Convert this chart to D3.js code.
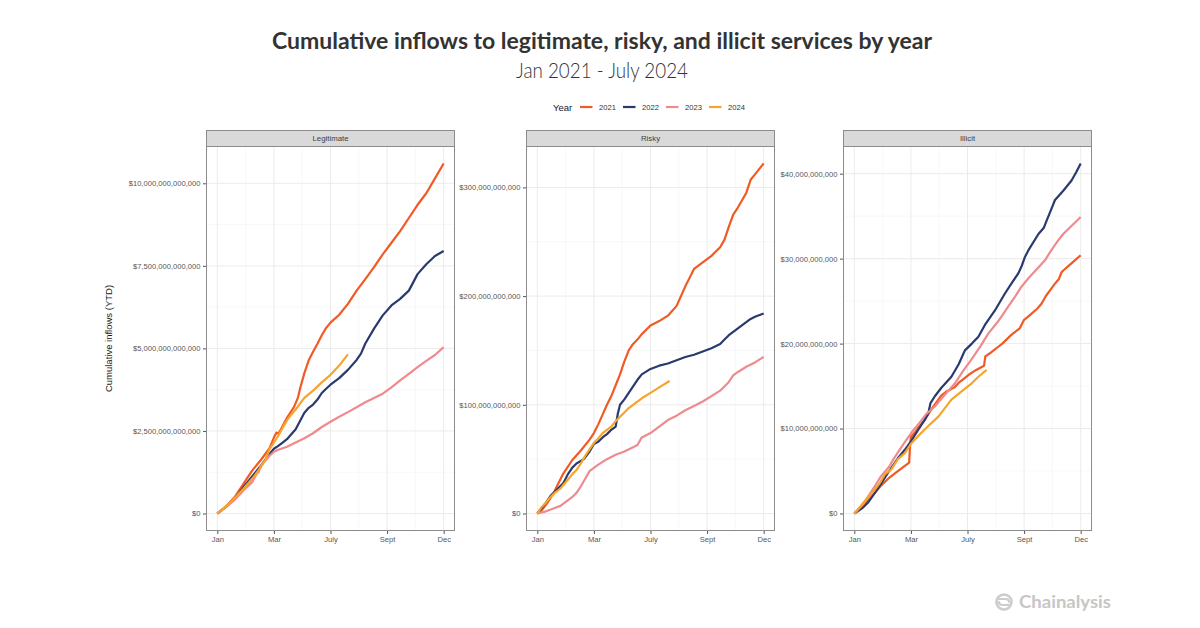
<!DOCTYPE html>
<html>
<head>
<meta charset="utf-8">
<script src="https://cdn.jsdelivr.net/npm/d3@7"></script>
<style>
  html, body { margin: 0; padding: 0; background: #ffffff; }
  svg { display: block; }
</style>
</head>
<body>
<svg id="chart" width="1200" height="628"></svg>
<script>
// ---------------- DATA (x = week of year, y = cumulative inflow) ----------------
const years = ["2021", "2022", "2023", "2024"];
const yearColors = ["#F15A24", "#2B3A6E", "#EF8A8E", "#F7A52A"];
const panelNames = ["Legitimate", "Risky", "Illicit"];
const xTickWeeks = [0, 13, 26, 39, 52];
const xTickLabels = ["Jan", "Mar", "July", "Sept", "Dec"];

// Legitimate (trillions USD)
const legit2021 = [[0,0],[2,0.22],[4,0.5],[6,0.9],[8,1.3],[10,1.62],[12,1.98],[13,2.3],[13.6,2.45],[14,2.42],[14.4,2.5],[15,2.65],[16,2.9],[17,3.1],[17.6,3.22],[18.5,3.5],[19.1,3.83],[20,4.25],[21,4.64],[22,4.9],[23,5.14],[24,5.4],[25,5.62],[26,5.78],[28,6.02],[30,6.35],[32,6.75],[34,7.1],[36,7.46],[38,7.85],[40,8.2],[42,8.55],[44,8.95],[46,9.35],[48,9.7],[50,10.15],[52,10.6]];
const legit2022 = [[0,0],[2,0.2],[4,0.45],[6,0.8],[8,1.12],[10,1.45],[12,1.8],[13,1.96],[14,2.05],[15,2.15],[16,2.25],[17,2.4],[18,2.55],[19,2.8],[20,3.05],[21,3.2],[22,3.3],[23,3.45],[24,3.65],[25,3.78],[26,3.9],[28,4.1],[30,4.35],[32,4.65],[33,4.84],[34,5.15],[36,5.6],[38,6.0],[40,6.3],[42,6.5],[44,6.75],[45,7.0],[46,7.25],[48,7.55],[50,7.8],[52,7.95]];
const legit2023 = [[0,0],[2,0.2],[4,0.42],[6,0.7],[8,0.95],[9,1.2],[9.5,1.25],[10,1.45],[11,1.6],[12,1.75],[13,1.87],[14,1.93],[16,2.02],[18,2.15],[20,2.28],[22,2.43],[24,2.62],[26,2.78],[28,2.93],[30,3.07],[32,3.22],[34,3.37],[36,3.5],[38,3.63],[40,3.82],[42,4.03],[44,4.23],[46,4.43],[48,4.62],[50,4.8],[52,5.04]];
const legit2024 = [[0,0],[2,0.22],[4,0.47],[6,0.75],[8,1.05],[10,1.4],[11,1.62],[12,1.95],[13,2.15],[14,2.35],[15,2.6],[16,2.82],[17,3.0],[18,3.15],[19,3.33],[20,3.5],[22,3.72],[24,3.97],[26,4.2],[28,4.48],[30,4.82]];

// Risky (billions USD)
const risky2021 = [[0,0],[1,3],[2,8],[3,14],[4,21],[4.5,25],[6,37],[8,49],[10,58],[12,68],[13,74],[14,82],[15,91],[16,100],[17,108],[18,118],[19,128],[20,140],[21,150],[22,156],[23,160],[24,165],[26,173],[28,177],[30,182],[32,191],[33,200],[34,209],[35,217],[36,225],[38,231],[40,237],[42,245],[43,252],[44,264],[45,275],[46,281],[47,288],[48,295],[49,307],[50,312],[51,317],[52,322]];
const risky2022 = [[0,0],[1,5],[2,10],[3,16],[4,20],[6,28],[7,36],[8,42],[9,46],[10.7,50],[12,57],[13,64],[14,66],[15,70],[16,73],[17,77],[18,80],[18.5,92],[19,100],[20,105],[21,111],[22,117],[23,123],[24,128],[26,133],[28,136],[30,138],[32,141],[34,144],[36,146],[38,149],[40,152],[42,156],[43,160],[44,164],[45,167],[46,170],[48,176],[49,179],[50,181],[52,184]];
const risky2023 = [[0,0],[2,2],[4,5],[5.3,7],[7,12],[8,15],[9,19],[10,25],[11,32],[12,39],[13,42],[14,45],[16,50],[18,54],[20,57],[22,61],[23,63],[24,70],[26,74],[28,80],[30,86],[32,90],[34,95],[36,99],[38,103],[40,108],[42,113],[44,121],[45,127],[46,130],[48,135],[50,139],[52,144]];
const risky2024 = [[0,0],[1,6],[2,10],[3,15],[4,19],[5.3,23],[7,31],[8,36],[9,40],[10,46],[11,53],[12,59],[13,65],[14,69],[15,74],[16,77],[17,80],[18,85],[19,89],[20,93],[21,97],[22,100],[23,103],[24,106],[26,111],[28,116],[30,121],[30.4,122]];

// Illicit (billions USD)
const illicit2021 = [[0,0],[2,0.9],[4,2.0],[4.7,2.4],[6,3.2],[8,4.2],[10,5.0],[12.6,6.0],[12.8,8.0],[13,9.0],[14,9.6],[15,10.3],[16.2,11.0],[17,11.7],[18,12.5],[19.3,13.4],[20,13.9],[21,14.3],[23.1,14.9],[24,15.4],[25,15.8],[26.2,16.3],[28,16.9],[29.8,17.4],[30.1,18.5],[31,18.8],[32,19.2],[33,19.6],[34,20.0],[36,21.0],[38,21.8],[39,22.8],[40,23.2],[42,24.1],[43,24.7],[44,25.6],[45,26.3],[46,27.0],[47,27.6],[47.6,28.4],[48,28.6],[50,29.5],[52,30.4]];
const illicit2022 = [[0,0],[2,0.7],[3.1,1.26],[4,1.9],[6,3.4],[8,5.0],[10,6.5],[11.6,7.5],[13,8.5],[14.7,9.86],[16,10.9],[17,11.8],[17.5,13.0],[18.5,13.8],[20,14.8],[22.3,16.1],[24,17.6],[25.4,19.2],[27,20.0],[28.5,20.8],[30,22.2],[32.3,23.9],[34.6,25.9],[36,27.0],[37.7,28.3],[38.5,29.2],[39.2,30.2],[40,31.0],[42.3,32.9],[43.5,33.6],[44.2,34.5],[45,35.5],[46.1,36.9],[48,38.0],[49.9,39.2],[51,40.2],[52,41.2]];
const illicit2023 = [[0,0],[2,1.1],[4.7,3.2],[6,4.3],[8,5.5],[9,6.4],[10.4,7.5],[12,8.7],[13.1,9.5],[15,10.7],[16.5,11.7],[18.5,12.6],[20,13.5],[21.5,14.4],[23.1,15.3],[25,16.8],[27,18.2],[29,19.7],[30.8,21.2],[33,22.6],[35,24.1],[37,25.6],[38.4,26.7],[40,27.7],[42,28.8],[43.8,29.8],[45,30.8],[46.9,32.2],[48,32.9],[50,33.9],[52,34.9]];
const illicit2024 = [[0,0],[2,1.2],[4.7,2.8],[6,3.7],[7,4.6],[8.5,5.2],[10,6.4],[11.6,7.1],[13,8.2],[15.4,9.5],[17,10.3],[19.3,11.4],[20.5,12.2],[22.3,13.4],[24,14.1],[26.9,15.3],[28.5,16.1],[30.4,16.9]];

const legitTicks = [0, 2.5, 5, 7.5, 10];     // trillions
const riskyTicks = [0, 100, 200, 300];        // billions
const illicitTicks = [0, 10, 20, 30, 40];     // billions
const legitUnit = 1e12, riskyUnit = 1e9, illicitUnit = 1e9;

// ---------------- LAYOUT ----------------
const svg = d3.select("#chart");
const W = 1200, H = 628;
svg.append("rect").attr("width", W).attr("height", H).attr("fill", "#ffffff");

const panels = [
  { name: panelNames[0], left: 206, series: [legit2021, legit2022, legit2023, legit2024], ticks: legitTicks, unit: legitUnit },
  { name: panelNames[1], left: 526, series: [risky2021, risky2022, risky2023, risky2024], ticks: riskyTicks, unit: riskyUnit },
  { name: panelNames[2], left: 843, series: [illicit2021, illicit2022, illicit2023, illicit2024], ticks: illicitTicks, unit: illicitUnit }
];
const panelW = 249, stripTop = 130, stripH = 16, plotTop = 146, plotBottom = 531;
const axisFont = "'Liberation Sans', Arial, sans-serif";
const fmt = d3.format("$,.0f");

panels.forEach(p => {
  const g = svg.append("g");
  const xMin = 0, xMax = 52, xPad = (xMax - xMin) * 0.05;
  const x = d3.scaleLinear().domain([xMin - xPad, xMax + xPad]).range([p.left, p.left + panelW]);
  const allY = p.series.flat().map(d => d[1]);
  const yLo = d3.min(allY), yHi = d3.max(allY), yPad = (yHi - yLo) * 0.05;
  const y = d3.scaleLinear().domain([yLo - yPad, yHi + yPad]).range([plotBottom, plotTop]);

  g.append("rect").attr("x", p.left).attr("y", plotTop).attr("width", panelW).attr("height", plotBottom - plotTop).attr("fill", "#ffffff");

  const yMinor = d3.pairs(p.ticks).map(([a, b]) => (a + b) / 2);
  const xMinor = d3.pairs(xTickWeeks).map(([a, b]) => (a + b) / 2);
  g.selectAll(".ymin").data(yMinor).join("line")
    .attr("x1", p.left).attr("x2", p.left + panelW)
    .attr("y1", d => y(d)).attr("y2", d => y(d))
    .attr("stroke", "#f3f3f3").attr("stroke-width", 0.6);
  g.selectAll(".xmin").data(xMinor).join("line")
    .attr("x1", d => x(d)).attr("x2", d => x(d))
    .attr("y1", plotTop).attr("y2", plotBottom)
    .attr("stroke", "#f3f3f3").attr("stroke-width", 0.6);
  g.selectAll(".ymaj").data(p.ticks).join("line")
    .attr("x1", p.left).attr("x2", p.left + panelW)
    .attr("y1", d => y(d)).attr("y2", d => y(d))
    .attr("stroke", "#ebebeb").attr("stroke-width", 1);
  g.selectAll(".xmaj").data(xTickWeeks).join("line")
    .attr("x1", d => x(d)).attr("x2", d => x(d))
    .attr("y1", plotTop).attr("y2", plotBottom)
    .attr("stroke", "#ebebeb").attr("stroke-width", 1);

  const line = d3.line().x(d => x(d[0])).y(d => y(d[1])).curve(d3.curveLinear);
  p.series.forEach((s, i) => {
    g.append("path").datum(s)
      .attr("d", line)
      .attr("fill", "none")
      .attr("stroke", yearColors[i])
      .attr("stroke-width", 2.2)
      .attr("stroke-linejoin", "round")
      .attr("stroke-linecap", "butt");
  });

  g.append("rect").attr("x", p.left + 0.5).attr("y", plotTop + 0.5).attr("width", panelW - 1).attr("height", plotBottom - plotTop - 1)
    .attr("fill", "none").attr("stroke", "#8c8c8c").attr("stroke-width", 1);

  g.append("rect").attr("x", p.left + 0.5).attr("y", stripTop + 0.5).attr("width", panelW - 1).attr("height", stripH)
    .attr("fill", "#d9d9d9").attr("stroke", "#8c8c8c").attr("stroke-width", 1);
  g.append("text").attr("x", p.left + panelW / 2).attr("y", stripTop + stripH / 2 + 3.2)
    .attr("text-anchor", "middle").attr("font-family", axisFont).attr("font-size", 7.8).attr("font-weight", 400)
    .attr("fill", "#404040").text(p.name);

  const yAxis = d3.axisLeft(y).tickValues(p.ticks).tickSize(3).tickSizeOuter(0).tickPadding(2.5)
    .tickFormat(d => fmt(Math.round(d * p.unit)));
  const ya = g.append("g").attr("transform", `translate(${p.left},0)`).call(yAxis);
  ya.select(".domain").remove();
  ya.selectAll(".tick line").attr("stroke", "#555555");
  ya.selectAll(".tick text").attr("font-family", axisFont).attr("font-size", 7.6).attr("fill", "#555555");

  const xAxis = d3.axisBottom(x).tickValues(xTickWeeks).tickSize(3).tickSizeOuter(0).tickPadding(2.5)
    .tickFormat((d, i) => xTickLabels[i]);
  const xa = g.append("g").attr("transform", `translate(0,${plotBottom})`).call(xAxis);
  xa.select(".domain").remove();
  xa.selectAll(".tick line").attr("stroke", "#555555");
  xa.selectAll(".tick text").attr("font-family", axisFont).attr("font-size", 7.6).attr("fill", "#555555");
});

svg.append("text")
  .attr("transform", `translate(112,${(plotTop + plotBottom) / 2}) rotate(-90)`)
  .attr("text-anchor", "middle").attr("font-family", axisFont).attr("font-size", 9.5)
  .attr("fill", "#1a1a1a").text("Cumulative inflows (YTD)");

svg.append("text").attr("x", 602).attr("y", 49).attr("text-anchor", "middle")
  .attr("font-family", "Lato, 'Open Sans', sans-serif").attr("font-weight", 700).attr("font-size", 23)
  .attr("fill", "#333333").attr("textLength", 660).attr("lengthAdjust", "spacingAndGlyphs")
  .text("Cumulative inflows to legitimate, risky, and illicit services by year");
svg.append("text").attr("x", 602).attr("y", 78).attr("text-anchor", "middle")
  .attr("font-family", "Lato, 'Open Sans', sans-serif").attr("font-weight", 300).attr("font-size", 21)
  .attr("fill", "#333333").attr("textLength", 172).attr("lengthAdjust", "spacingAndGlyphs")
  .text("Jan 2021 - July 2024");

const leg = svg.append("g");
leg.append("text").attr("x", 553).attr("y", 110.5).attr("font-family", axisFont).attr("font-size", 9.5)
  .attr("fill", "#1a1a1a").text("Year");
years.forEach((yr, i) => {
  const x0 = 580 + i * 43;
  leg.append("line").attr("x1", x0).attr("x2", x0 + 12.5).attr("y1", 107).attr("y2", 107)
    .attr("stroke", yearColors[i]).attr("stroke-width", 2.2);
  leg.append("text").attr("x", x0 + 19).attr("y", 109.8).attr("font-family", axisFont).attr("font-size", 7.6)
    .attr("fill", "#333333").text(yr);
});

const logo = svg.append("g");
logo.append("circle").attr("cx", 1004).attr("cy", 602).attr("r", 7.5).attr("fill", "none")
  .attr("stroke", "#cccccc").attr("stroke-width", 2.6);
logo.append("path").attr("d", "M999,599 L1005,599 Q1009,599 1009,602 M1009,605 L1003,605 Q999,605 999,602")
  .attr("fill", "none").attr("stroke", "#cccccc").attr("stroke-width", 2.2).attr("stroke-linecap", "round");
logo.append("text").attr("x", 1019).attr("y", 608).attr("font-family", "Lato, 'Open Sans', sans-serif")
  .attr("font-weight", 700).attr("font-size", 16.5).attr("fill", "#c6c6c6")
  .attr("textLength", 92).attr("lengthAdjust", "spacingAndGlyphs").text("Chainalysis");
</script>
</body>
</html>
